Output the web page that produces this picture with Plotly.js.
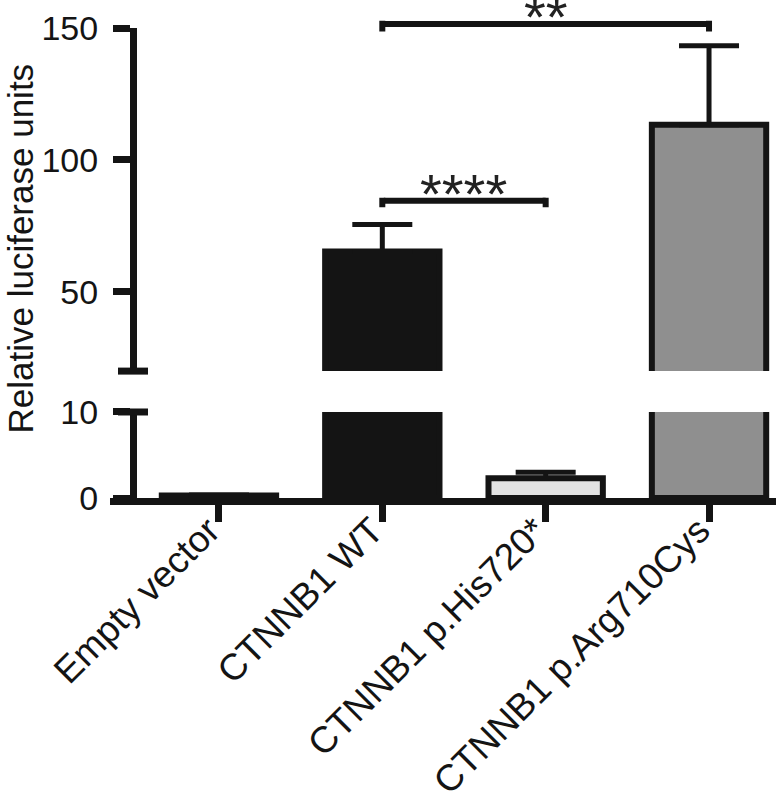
<!DOCTYPE html>
<html>
<head>
<meta charset="utf-8">
<script src="https://cdn.plot.ly/plotly-3.0.1.min.js"></script>
<style>
  html, body { margin: 0; padding: 0; background: #fff; }
  #chart { width: 778px; height: 805px; }
</style>
</head>
<body>
<div id="chart"></div>
<script>
// Luciferase reporter assay - broken y axis bar chart

// Data
const categories = ['Empty vector', 'CTNNB1 WT', 'CTNNB1 p.His720*', 'CTNNB1 p.Arg710Cys'];
const means = [0.3, 65.3, 2.3, 113.3];
const errors = [0.05, 10.2, 0.7, 30.0];
const fillColors = ['#ffffff', '#141414', '#e3e3e3', '#8f8f8f'];

// Axis break: lower segment and upper segment
const lowerRange = [0, 10];
const upperRange = [20, 150];
const lowerTicks = [0, 10];
const upperTicks = [50, 100, 150];

// Significance brackets
const sigFrom = ['CTNNB1 WT', 'CTNNB1 WT'];
const sigTo = ['CTNNB1 p.His720*', 'CTNNB1 p.Arg710Cys'];
const sigLevel = [84.5, 151.5];
const sigDrop = [3.0, 3.4];
const sigLabel = ['****', '**'];
const sigLabelPos = [1.5, 2];

const ink = '#141414';
const font = 'Liberation Sans, Arial, Helvetica, sans-serif';
const axisPos = 23 / 666;   // y axis sits a little right of where the x axis starts
const bracketWidth = 6;
const overshoot = 1.2;      // y2 units, fills the bracket corners

// brackets can sit above the top of the axis, so they are placed in the
// y2 domain frame (data annotations outside the range would be hidden)
const upperFrac = v => (v - upperRange[0]) / (upperRange[1] - upperRange[0]);

function barTrace(yaxis) {
    return {
        x: categories,
        y: means,
        type: 'bar',
        yaxis: yaxis,
        width: 0.7,
        marker: {
            color: fillColors,
            line: { color: ink, width: 6 }
        },
        error_y: {
            type: 'data',
            symmetric: false,
            array: errors,
            arrayminus: errors.map(() => 0),
            color: ink,
            thickness: 5,
            width: 30
        },
        hoverinfo: 'x+y',
        showlegend: false
    };
}

const chartData = [barTrace('y'), barTrace('y2')];

function segment(x0, y0, x1, y1) {
    return {
        xref: 'x', yref: 'y2 domain', axref: 'x', ayref: 'y2 domain',
        x: x1, y: upperFrac(y1), ax: x0, ay: upperFrac(y0),
        text: '',
        showarrow: true,
        arrowhead: 0,
        arrowwidth: bracketWidth,
        arrowcolor: ink,
        standoff: 0,
        startstandoff: 0
    };
}

const annotations = [];
sigFrom.forEach((from, i) => {
    const to = sigTo[i];
    const lvl = sigLevel[i];
    annotations.push(segment(from, lvl, to, lvl));
    annotations.push(segment(from, lvl - sigDrop[i], from, lvl + overshoot));
    annotations.push(segment(to, lvl - sigDrop[i], to, lvl + overshoot));
    annotations.push({
        x: sigLabelPos[i],
        y: upperFrac(lvl),
        xref: 'x',
        yref: 'y2 domain',
        text: sigLabel[i],
        showarrow: false,
        yanchor: 'bottom',
        yshift: -26,
        font: { family: font, size: 56, color: '#222' }
    });
});

annotations.push({
    text: 'Relative luciferase units',
    xref: 'paper',
    yref: 'paper',
    x: -0.135,
    y: 0.531,
    xanchor: 'center',
    yanchor: 'middle',
    textangle: -90,
    showarrow: false,
    font: { family: font, size: 35, color: ink }
});

// break caps at the ends of the two axis segments
const capShape = (yref, y) => ({
    type: 'line',
    xref: 'paper',
    yref: yref,
    xsizemode: 'pixel',
    xanchor: axisPos,
    x0: -15,
    x1: 15,
    y0: y,
    y1: y,
    line: { color: ink, width: 7 }
});

const axisCommon = {
    showline: true,
    linecolor: ink,
    linewidth: 7,
    ticks: 'outside',
    ticklen: 17,
    tickwidth: 7,
    tickcolor: ink,
    showgrid: false,
    zeroline: false,
    fixedrange: true,
    tickfont: { family: font, size: 34, color: ink }
};

const layout = {
    width: 778,
    height: 805,
    margin: { l: 110, r: 2, t: 28, b: 307 },
    paper_bgcolor: '#ffffff',
    plot_bgcolor: '#ffffff',
    xaxis: Object.assign({}, axisCommon, {
        type: 'category',
        anchor: 'y',
        domain: [0, 1],
        range: [-0.667, 3.41],
        tickangle: -45,
        ticklabelstandoff: -28,
        ticklabelshift: -10,
        tickfont: { family: font, size: 37, color: ink }
    }),
    yaxis: Object.assign({}, axisCommon, {
        anchor: 'free',
        position: axisPos,
        domain: [0, 0.183],
        range: lowerRange,
        tickvals: lowerTicks,
        ticklabelstandoff: 8
    }),
    yaxis2: Object.assign({}, axisCommon, {
        anchor: 'free',
        position: axisPos,
        domain: [0.27, 1],
        range: upperRange,
        tickvals: upperTicks,
        ticklabelstandoff: 8
    }),
    shapes: [capShape('y domain', 1), capShape('y2 domain', 0)],
    annotations: annotations
};

const config = {
    responsive: false,
    displayModeBar: false,
    staticPlot: true
};

Plotly.newPlot('chart', chartData, layout, config);
</script>
</body>
</html>
